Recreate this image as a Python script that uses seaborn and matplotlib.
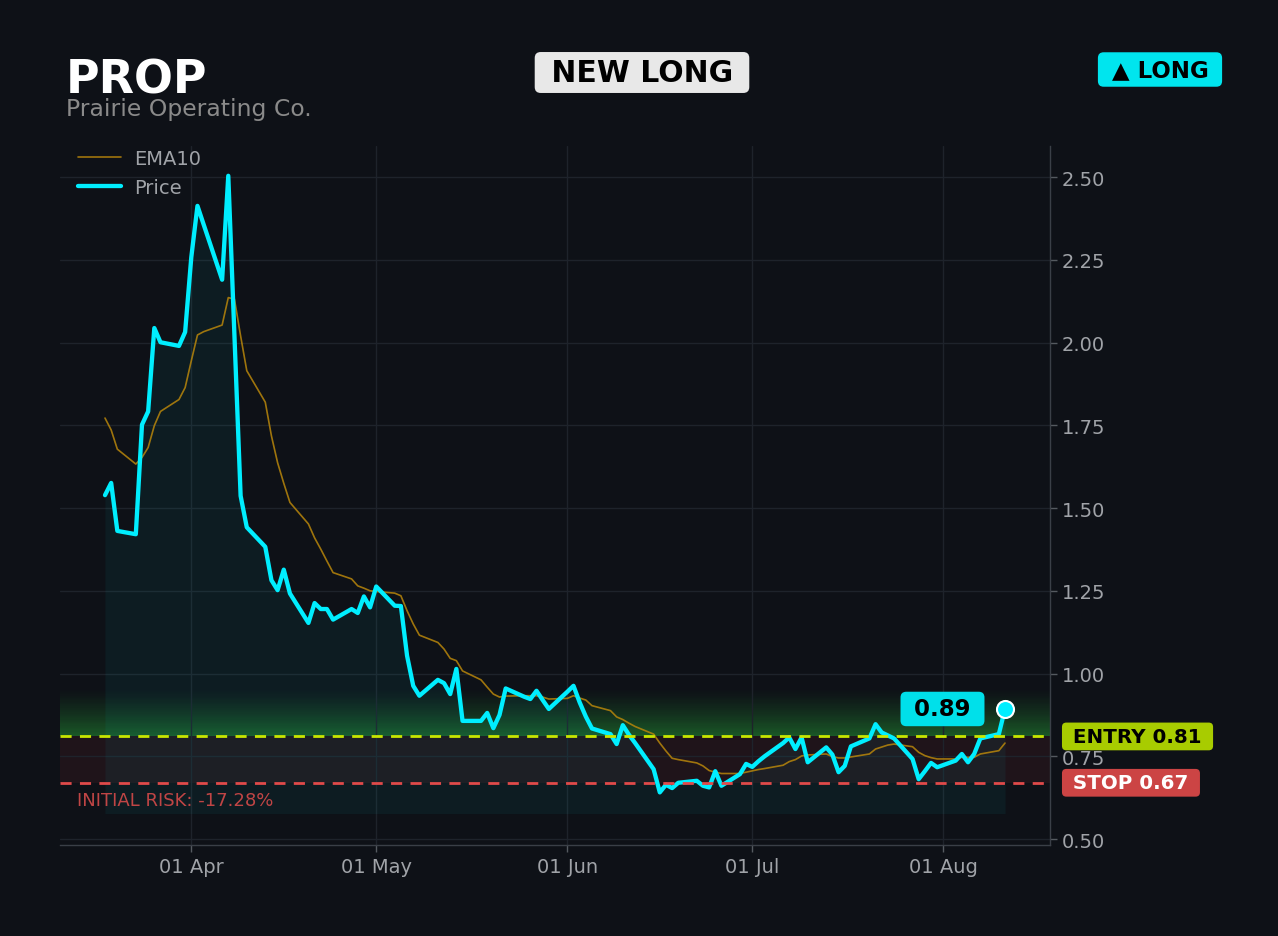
import pandas as pd
import numpy as np
import seaborn as sns
import matplotlib.pyplot as plt
import matplotlib.dates as mdates

# Chart data
ticker = 'PROP'
company = 'Prairie Operating Co.'
entry = 0.81
stop = 0.67

# trading sessions, stamped one day early (Sun-Thu) as in the source chart
dates = pd.bdate_range('2025-03-19', '2025-08-12') - pd.Timedelta(days=1)

price = [
    1.539, 1.576, 1.431,
    1.421, 1.752, 1.792, 2.044, 2.001,
    1.990, 2.032, 2.258, 2.413, 2.357,
    2.190, 2.504, 2.020, 1.537, 1.442,
    1.383, 1.282, 1.252, 1.314, 1.242,
    1.153, 1.213, 1.195, 1.195, 1.163,
    1.195, 1.183, 1.233, 1.200, 1.263,
    1.205, 1.204, 1.054, 0.963, 0.933,
    0.981, 0.971, 0.938, 1.014, 0.857,
    0.857, 0.881, 0.835, 0.875, 0.955,
    0.930, 0.923, 0.948, 0.920, 0.893,
    0.945, 0.963, 0.913, 0.870, 0.834,
    0.817, 0.787, 0.844, 0.815, 0.790,
    0.711, 0.641, 0.664, 0.654, 0.670,
    0.676, 0.661, 0.656, 0.705, 0.661,
    0.696, 0.727, 0.718, 0.735, 0.750,
    0.790, 0.807, 0.772, 0.807, 0.732,
    0.777, 0.755, 0.702, 0.721, 0.780,
    0.804, 0.847, 0.822, 0.813, 0.804,
    0.742, 0.681, 0.705, 0.730, 0.717,
    0.737, 0.757, 0.732, 0.757, 0.804,
    0.817, 0.893,
]

ema10 = [
    1.772, 1.736, 1.678,
    1.633, 1.653, 1.683, 1.749, 1.792,
    1.828, 1.864, 1.945, 2.023, 2.033,
    2.053, 2.136, 2.131, 2.020, 1.915,
    1.820, 1.718, 1.637, 1.575, 1.517,
    1.452, 1.410, 1.376, 1.340, 1.305,
    1.286, 1.265, 1.258, 1.250, 1.248,
    1.243, 1.235, 1.190, 1.150, 1.116,
    1.094, 1.074, 1.046, 1.039, 1.008,
    0.981, 0.959, 0.938, 0.929, 0.932,
    0.933, 0.933, 0.933, 0.929, 0.923,
    0.925, 0.933, 0.926, 0.920, 0.903,
    0.888, 0.869, 0.861, 0.850, 0.840,
    0.817, 0.790, 0.766, 0.744, 0.740,
    0.730, 0.721, 0.707, 0.702, 0.698,
    0.698, 0.702, 0.706, 0.710, 0.713,
    0.723, 0.734, 0.740, 0.751, 0.754,
    0.757, 0.749, 0.745, 0.745, 0.748,
    0.757, 0.772, 0.778, 0.784, 0.787,
    0.779, 0.762, 0.752, 0.746, 0.742,
    0.742, 0.747, 0.747, 0.747, 0.757,
    0.767, 0.790,
]

df = pd.DataFrame({'date': dates, 'price': price, 'ema10': ema10})

# Colours
bg = '#0e1117'
cyan = '#00eeff'
gray_txt = '#a0a3a8'
entry_col = '#c8e600'
stop_col = '#e04a4a'

sns.set_theme(style='dark')
plt.rcParams['font.family'] = ['DejaVu Sans']

fig = plt.figure(figsize=(12.78, 9.37), dpi=100, facecolor=bg)
ax = fig.add_axes([60 / 1278, 1 - 846 / 937, 990 / 1278, 699 / 937])
ax.set_facecolor(bg)

# Zones: stop->entry risk band, green glow above entry
ax.axhspan(stop, entry, color='#ff4444', alpha=0.075, lw=0, zorder=0)
n_glow = 40
glow_h = 0.145
for i in range(n_glow):
    t = i / n_glow
    ax.axhspan(entry + glow_h * t, entry + glow_h * (t + 1 / n_glow),
               color='#2ecc40', alpha=0.38 * (1 - t) ** 1.3, lw=0, zorder=0)

# Area under price
ax.fill_between(df['date'], df['price'], df['price'].min() * 0.9,
                color=cyan, alpha=0.05, lw=0, zorder=1)

sns.lineplot(data=df, x='date', y='ema10', ax=ax, color='#b8860b', lw=1.2,
             alpha=0.85, label='EMA10', zorder=3)
sns.lineplot(data=df, x='date', y='price', ax=ax, color=cyan, lw=3.1,
             label='Price', zorder=4)

ax.axhline(entry, color=entry_col, ls='--', lw=2, dashes=(4, 3), zorder=5)
ax.axhline(stop, color=stop_col, ls='--', lw=2, dashes=(4, 3), zorder=5)

# Last price marker and badge
last_date = df['date'].iloc[-1]
last_price = df['price'].iloc[-1]
ax.scatter([last_date], [last_price], s=150, color=cyan, edgecolor='white',
           linewidth=1.5, zorder=6)
ax.annotate(f' {last_price:.2f} ', xy=(last_date, last_price), xytext=(-45, 0),
            textcoords='offset points', ha='center', va='center',
            fontsize=16.5, fontweight='bold', color='black', zorder=7,
            bbox=dict(boxstyle='round,pad=0.25', fc='#00e0ea', ec='none'))

# Entry / stop badges at the right
ytr = ax.get_yaxis_transform()
ax.text(1.0165, entry, f' ENTRY {entry:.2f} ', transform=ytr, ha='left', va='center',
        fontsize=14.3, fontweight='bold', color='black', clip_on=False, zorder=8,
        bbox=dict(boxstyle='round,pad=0.22', fc='#a8cc00', ec='none'))
ax.text(1.0165, stop, f' STOP {stop:.2f} ', transform=ytr, ha='left', va='center',
        fontsize=14.3, fontweight='bold', color='white', clip_on=False, zorder=8,
        bbox=dict(boxstyle='round,pad=0.22', fc='#cc4444', ec='none'))

risk = (stop - entry) / entry * 100
ax.text(0.017, stop - 0.053, f'INITIAL RISK: {risk:.2f}%', transform=ytr,
        ha='left', va='center', fontsize=13, color='#c04545', zorder=8)

# Axes styling
ax.set_ylim(0.482, 2.594)
ax.set_yticks(np.arange(0.5, 2.51, 0.25))
ax.yaxis.set_major_formatter(plt.FormatStrFormatter('%.2f'))
ax.yaxis.tick_right()
ax.xaxis.set_major_locator(mdates.MonthLocator())
ax.xaxis.set_major_formatter(mdates.DateFormatter('%d %b'))
ax.set_xlabel('')
ax.set_ylabel('')
ax.tick_params(colors='#555a60', labelcolor=gray_txt, labelsize=14,
               length=5, width=1, bottom=True, right=True)
ax.grid(True, color='#1e232b', lw=1)
for side in ['left', 'top']:
    ax.spines[side].set_visible(False)
for side in ['right', 'bottom']:
    ax.spines[side].set_color('#3a3f47')
    ax.spines[side].set_linewidth(1)

leg = ax.legend(loc='upper left', bbox_to_anchor=(0.018, 0.9957), frameon=False,
                fontsize=14, borderaxespad=0, borderpad=0, handlelength=2.2,
                handletextpad=0.7, labelspacing=0.5)
for t in leg.get_texts():
    t.set_color(gray_txt)

# Header
fig.text(66 / 1278, 1 - 93.5 / 937, ticker, fontsize=33, fontweight='bold',
         color='white', ha='left', va='baseline')
fig.text(66 / 1278, 1 - 116 / 937, company, fontsize=16.9, color='#8a8a8a',
         ha='left', va='baseline')
fig.text(642 / 1278, 1 - 73.5 / 937, ' NEW LONG ', fontsize=21.5, fontweight='bold',
         color='black', ha='center', va='center',
         bbox=dict(boxstyle='round,pad=0.2', fc='#e8e8e8', ec='none'))
fig.text(1160 / 1278, 1 - 70.5 / 937, ' ▲ LONG ', fontsize=16.5, fontweight='bold',
         color='black', ha='center', va='center',
         bbox=dict(boxstyle='round,pad=0.25', fc='#00e5ee', ec='none'))

fig.savefig('out.png', dpi=100, facecolor=bg)
